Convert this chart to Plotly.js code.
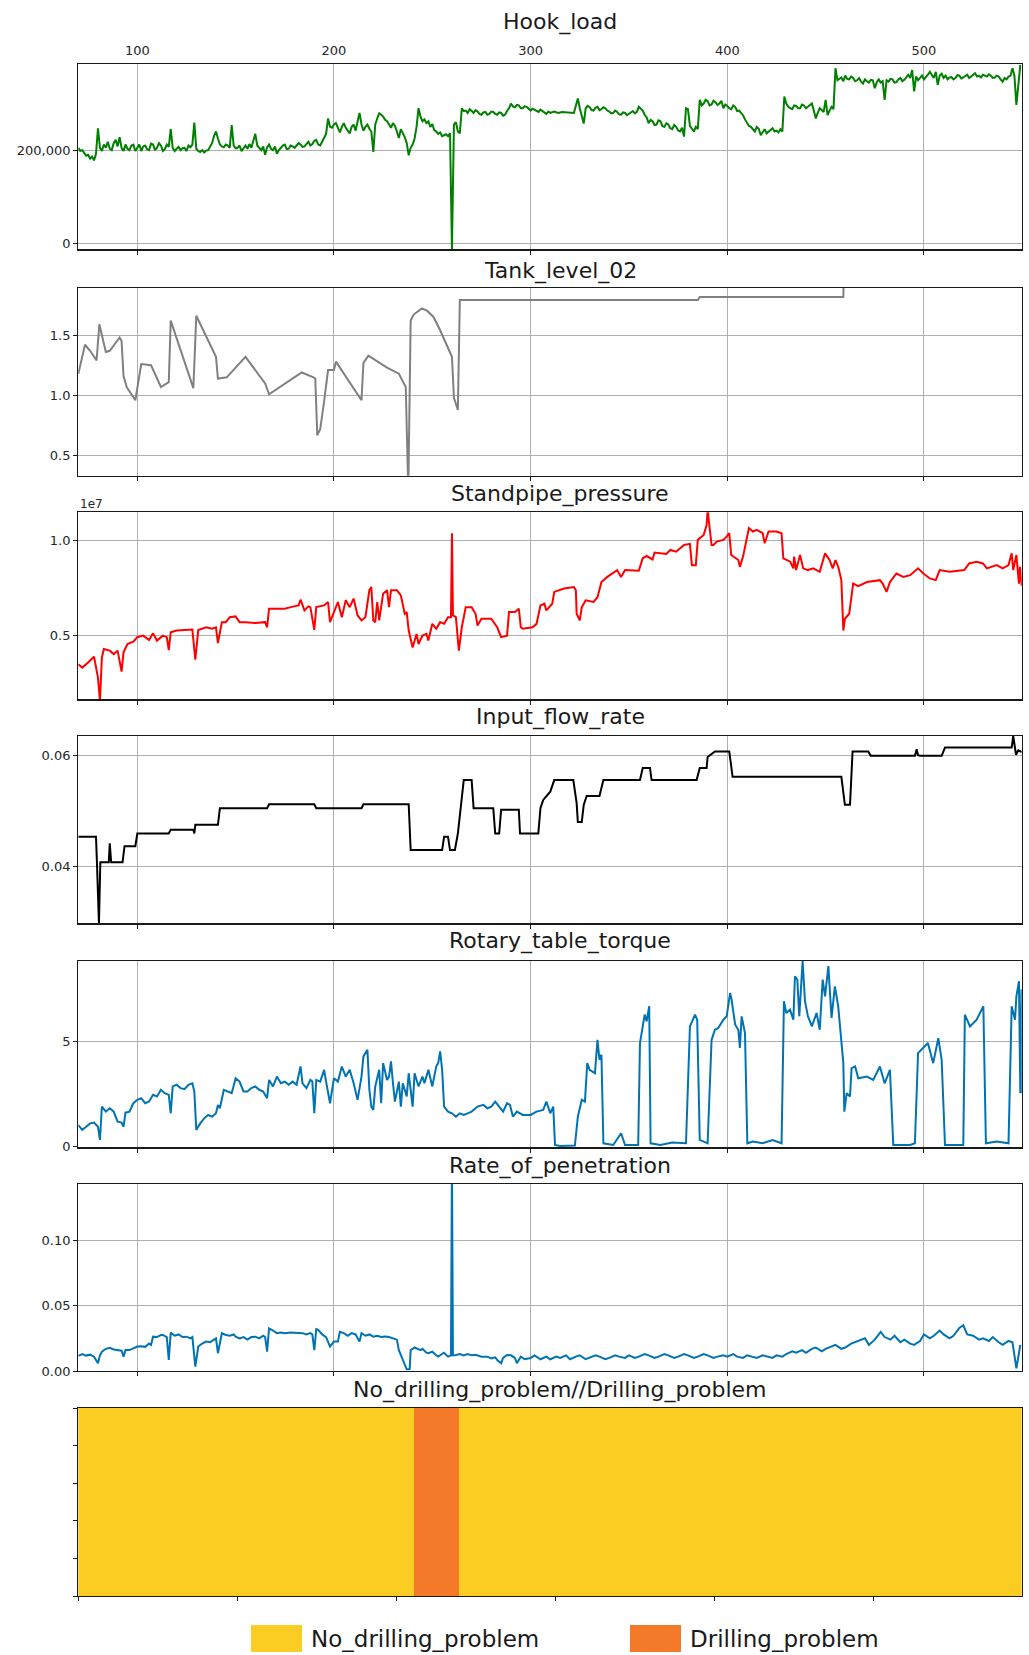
<!DOCTYPE html>
<html><head><meta charset="utf-8">
<script src="https://cdn.plot.ly/plotly-3.0.1.min.js"></script>
<style>html,body{margin:0;padding:0;background:#fff}#chart{width:1029px;height:1655px}</style>
</head><body><div id="chart"></div>
<script>
// ---------------- DATA ----------------
const xTickVals = [100, 200, 300, 400, 500];
const panelTitles = ['Hook_load', 'Tank_level_02', 'Standpipe_pressure', 'Input_flow_rate',
  'Rotary_table_torque', 'Rate_of_penetration', 'No_drilling_problem//Drilling_problem'];

// [x, value]
const hookLoad = [[70,205e3],[71,198e3],[72,200e3],[73,195e3],[74,188e3],[75,190e3],[76,182e3],[77,186e3],[78,178e3],[79,192e3],[80,247e3],[81,205e3],[82,198e3],[83,212e3],[84,205e3],[85,218e3],[86,203e3],[87,200e3],[88,215e3],[89,222e3],[90,208e3],[91,228e3],[92,205e3],[93,198e3],[94,212e3],[95,203e3],[96,200e3],[97,210e3],[98,212e3],[99,198e3],[100,205e3],[101,212e3],[102,198e3],[103,208e3],[104,210e3],[105,202e3],[106,200e3],[107,214e3],[108,212e3],[109,200e3],[110,205e3],[111,215e3],[112,210e3],[113,198e3],[114,202e3],[115,212e3],[116,207e3],[117,245e3],[118,205e3],[119,198e3],[120,203e3],[121,207e3],[122,200e3],[123,204e3],[124,205e3],[125,198e3],[126,210e3],[127,206e3],[128,212e3],[129,259e3],[130,203e3],[131,198e3],[132,196e3],[133,200e3],[134,195e3],[135,199e3],[136,200e3],[137,207e3],[138,215e3],[139,230e3],[140,240e3],[141,225e3],[142,212e3],[143,208e3],[144,206e3],[145,212e3],[146,210e3],[147,205e3],[148,254e3],[149,210e3],[150,204e3],[151,205e3],[152,210e3],[153,198e3],[154,205e3],[155,210e3],[156,203e3],[157,213e3],[158,205e3],[159,218e3],[160,235e3],[161,210e3],[162,204e3],[163,200e3],[164,208e3],[165,190e3],[166,206e3],[167,212e3],[168,203e3],[169,200e3],[170,208e3],[171,192e3],[172,200e3],[173,205e3],[174,210e3],[175,212e3],[176,202e3],[177,203e3],[178,210e3],[179,208e3],[180,205e3],[181,210e3],[182,215e3],[183,212e3],[184,207e3],[185,208e3],[186,214e3],[187,218e3],[188,210e3],[189,213e3],[190,220e3],[191,222e3],[192,212e3],[193,210e3],[194,218e3],[195,228e3],[196,235e3],[197,268e3],[198,250e3],[199,248e3],[200,255e3],[201,258e3],[202,246e3],[203,238e3],[204,250e3],[205,258e3],[206,248e3],[207,243e3],[208,236e3],[209,250e3],[210,255e3],[211,242e3],[212,262e3],[213,280e3],[214,255e3],[215,242e3],[216,250e3],[217,255e3],[218,246e3],[219,240e3],[220,196e3],[221,255e3],[222,268e3],[223,279e3],[224,276e3],[225,272e3],[226,265e3],[227,262e3],[228,255e3],[229,248e3],[230,258e3],[231,252e3],[232,240e3],[233,226e3],[234,245e3],[235,236e3],[236,228e3],[237,215e3],[238,189e3],[239,205e3],[240,212e3],[241,225e3],[242,250e3],[243,290e3],[244,272e3],[245,262e3],[246,266e3],[247,258e3],[248,262e3],[249,250e3],[250,256e3],[251,243e3],[252,240e3],[253,235e3],[254,238e3],[255,230e3],[256,233e3],[257,234e3],[258,230e3],[259,236e3],[260,-13e3],[261,255e3],[262,260e3],[263,240e3],[264,236e3],[265,290e3],[266,284e3],[267,285e3],[268,280e3],[269,288e3],[270,284e3],[271,280e3],[272,286e3],[273,283e3],[274,278e3],[275,276e3],[276,281e3],[277,282e3],[278,276e3],[279,278e3],[280,283e3],[281,282e3],[282,278e3],[283,276e3],[284,281e3],[285,280e3],[286,274e3],[287,276e3],[288,284e3],[289,290e3],[290,300e3],[291,294e3],[292,292e3],[293,297e3],[294,296e3],[295,290e3],[296,290e3],[297,294e3],[298,293e3],[299,288e3],[300,285e3],[301,289e3],[302,287e3],[303,284e3],[304,282e3],[305,287e3],[306,284e3],[307,280e3],[308,278e3],[309,283e3],[310,280e3],[312,283e3],[314,280e3],[316,282e3],[318,281e3],[320,281e3],[322,280e3],[324,311e3],[325,290e3],[327,257e3],[328,290e3],[329,295e3],[330,292e3],[331,286e3],[332,285e3],[333,291e3],[334,293e3],[335,286e3],[336,288e3],[337,292e3],[338,290e3],[339,285e3],[340,283e3],[341,279e3],[342,280e3],[343,285e3],[344,282e3],[345,277e3],[346,276e3],[347,281e3],[348,280e3],[349,275e3],[350,278e3],[351,281e3],[352,284e3],[353,279e3],[354,282e3],[355,293e3],[356,288e3],[357,285e3],[358,276e3],[359,270e3],[360,258e3],[361,265e3],[362,262e3],[363,254e3],[364,255e3],[365,264e3],[366,262e3],[367,252e3],[368,250e3],[369,258e3],[370,255e3],[371,247e3],[372,245e3],[373,254e3],[374,250e3],[375,242e3],[376,240e3],[377,248e3],[378,229e3],[379,290e3],[380,288e3],[381,252e3],[382,246e3],[383,240e3],[384,250e3],[385,245e3],[386,308e3],[387,296e3],[388,300e3],[389,308e3],[390,305e3],[391,296e3],[392,298e3],[393,306e3],[394,303e3],[395,297e3],[396,300e3],[397,306e3],[398,290e3],[399,298e3],[400,295e3],[401,290e3],[402,288e3],[403,296e3],[404,293e3],[405,284e3],[406,285e3],[407,280e3],[408,275e3],[409,266e3],[410,258e3],[411,252e3],[412,250e3],[413,244e3],[414,240e3],[415,250e3],[416,246e3],[417,232e3],[418,240e3],[419,245e3],[420,236e3],[421,240e3],[422,244e3],[423,247e3],[424,240e3],[425,242e3],[426,238e3],[427,245e3],[428,240e3],[429,315e3],[430,300e3],[431,293e3],[432,290e3],[433,288e3],[434,296e3],[435,295e3],[436,290e3],[437,290e3],[438,298e3],[439,296e3],[440,290e3],[441,293e3],[442,296e3],[443,300e3],[444,285e3],[445,268e3],[446,280e3],[447,290e3],[448,286e3],[449,282e3],[450,308e3],[451,275e3],[452,285e3],[453,293e3],[454,288e3],[455,376e3],[456,350e3],[457,354e3],[458,356e3],[459,348e3],[460,360e3],[461,353e3],[462,352e3],[463,358e3],[464,355e3],[465,348e3],[466,350e3],[467,355e3],[468,347e3],[469,343e3],[470,352e3],[471,348e3],[472,345e3],[473,351e3],[474,350e3],[475,333e3],[476,346e3],[477,352e3],[478,345e3],[479,348e3],[480,308e3],[481,350e3],[482,347e3],[483,353e3],[484,352e3],[485,345e3],[486,346e3],[487,352e3],[488,355e3],[489,348e3],[490,351e3],[491,356e3],[492,362e3],[493,355e3],[494,372e3],[495,326e3],[496,358e3],[497,350e3],[498,355e3],[499,360e3],[500,352e3],[501,356e3],[502,362e3],[503,368e3],[504,360e3],[505,355e3],[506,368e3],[507,340e3],[508,360e3],[509,364e3],[510,355e3],[511,360e3],[512,352e3],[513,356e3],[514,357e3],[515,352e3],[516,355e3],[517,361e3],[518,360e3],[519,354e3],[520,356e3],[521,359e3],[522,362e3],[523,355e3],[524,358e3],[525,362e3],[526,365e3],[527,358e3],[528,360e3],[529,356e3],[530,362e3],[531,360e3],[532,358e3],[533,363e3],[534,360e3],[535,355e3],[536,356e3],[537,360e3],[538,358e3],[539,352e3],[540,347e3],[541,355e3],[542,352e3],[543,358e3],[544,360e3],[545,376e3],[546,360e3],[547,297e3],[548,350e3],[549,383e3]];

const tankLevel = [[70,1.18],[73.4,1.42],[76,1.37],[79.3,1.29],[80.7,1.59],[82,1.5],[84,1.36],[86,1.37],[91,1.48],[92,1.45],[93,1.16],[94.6,1.07],[99,0.96],[102,1.26],[107,1.25],[112,1.07],[116,1.11],[117,1.62],[128.5,1.06],[130,1.66],[140,1.32],[141,1.14],[145.5,1.15],[155,1.32],[165,1.10],[167,1.01],[183.6,1.19],[189.6,1.15],[190.5,1.14],[191.5,0.67],[193,0.72],[195,0.95],[197,1.21],[200,1.21],[201,1.28],[214,0.96],[215,1.27],[217.5,1.33],[227,1.23],[233,1.18],[236,1.08],[236.5,1.07],[237.8,0.2],[239,1.62],[240.5,1.67],[244.7,1.72],[247.5,1.70],[250.6,1.65],[254,1.54],[257.5,1.41],[259,1.35],[260,1.32],[261,0.98],[263,0.88],[264,1.79],[385,1.79],[386,1.815],[459,1.815],[460,2.6]];

const standpipePressure = [[70,3.48e6],[72,3.30e6],[75,3.57e6],[78,3.87e6],[80,2.77e6],[81,1.54e6],[82,3.83e6],[83,4.28e6],[86,4.19e6],[88,4.01e6],[90,4.19e6],[92,3.09e6],[93,4.1e6],[95,4.54e6],[98,4.66e6],[100,4.9e6],[103,4.98e6],[106,4.75e6],[108,5.1e6],[110,4.72e6],[113,4.98e6],[115,4.9e6],[116,4.22e6],[117,5.16e6],[120,5.25e6],[125,5.28e6],[128,5.3e6],[129.5,3.71e6],[131,5.28e6],[135,5.42e6],[138,5.34e6],[140,5.42e6],[141,4.59e6],[143,5.69e6],[145,5.69e6],[147,5.95e6],[150,5.99e6],[152,5.69e6],[155,5.69e6],[160,5.64e6],[165,5.69e6],[166,5.42e6],[167,6.4e6],[170,6.4e6],[175,6.4e6],[178,6.48e6],[180,6.52e6],[182,6.57e6],[183,6.87e6],[185,6.31e6],[187,6.52e6],[188,6.48e6],[190,5.28e6],[191,6.48e6],[195,6.57e6],[197,6.75e6],[198,5.69e6],[200,6.22e6],[202,6.75e6],[204,5.95e6],[206,6.84e6],[208,6.48e6],[210,6.93e6],[212,6.04e6],[214,5.78e6],[216,5.95e6],[218,7.37e6],[219,7.54e6],[220,5.78e6],[221,5.69e6],[222,6.75e6],[223,5.78e6],[225,7.19e6],[227,7.37e6],[228,6.48e6],[229,7.37e6],[232,7.37e6],[234,7.1e6],[236,6.13e6],[237,6.22e6],[238,5.25e6],[240,4.36e6],[242,5.07e6],[243,4.54e6],[245,4.98e6],[247,5.07e6],[248,4.72e6],[250,5.6e6],[252,5.34e6],[254,5.69e6],[256,5.6e6],[258,5.95e6],[259.5,5.95e6],[260,10.37e6],[260.5,6.04e6],[262,5.95e6],[263.5,4.19e6],[265,5.42e6],[267,6.48e6],[270,6.48e6],[272,6.13e6],[273,5.51e6],[275,5.87e6],[280,5.87e6],[283,5.42e6],[285,4.9e6],[288,4.98e6],[289,6.22e6],[292,6.22e6],[294,6.4e6],[295,5.42e6],[296,5.34e6],[301,5.42e6],[303,5.6e6],[305,6.57e6],[307,6.66e6],[308,6.31e6],[311,6.66e6],[312,7.28e6],[317,7.46e6],[322,7.54e6],[323,7.37e6],[323.4,6.13e6],[325,5.78e6],[326,6.48e6],[328,6.84e6],[332,6.75e6],[334,7.0e6],[336,7.8e6],[339,8.07e6],[344,8.43e6],[346,8.07e6],[348,8.43e6],[355,8.39e6],[357,9.05e6],[359,9.17e6],[362,8.99e6],[363,9.35e6],[369,9.28e6],[371,9.49e6],[374,9.4e6],[378,9.75e6],[381,9.81e6],[382,8.69e6],[384,8.69e6],[385,10.02e6],[388,10.28e6],[389.5,10.81e6],[390,11.6e6],[392,9.75e6],[393,9.75e6],[394.6,9.93e6],[398,10.02e6],[399.7,10.19e6],[401,10.37e6],[402,9.22e6],[404,9.05e6],[405.6,8.96e6],[406.4,8.6e6],[408,9.14e6],[411,10.64e6],[413,10.46e6],[415,10.55e6],[418,10.37e6],[419,9.84e6],[421,10.46e6],[425,10.46e6],[427.6,10.37e6],[428.5,9.05e6],[432,8.87e6],[433.6,8.52e6],[434,9.14e6],[435,8.43e6],[437,9.22e6],[438.6,8.52e6],[441,8.43e6],[443.7,8.52e6],[447,8.34e6],[449.7,9.31e6],[452,8.96e6],[453.6,8.52e6],[455,8.96e6],[456.4,8.6e6],[458,7.9e6],[459,5.25e6],[459.8,5.87e6],[462,6.13e6],[464,7.72e6],[466.6,7.58e6],[471,7.8e6],[477.6,7.9e6],[479,7.72e6],[481,7.28e6],[482.7,7.8e6],[486,8.25e6],[489.5,8.07e6],[493,8.16e6],[497,8.52e6],[499.7,8.25e6],[503,7.99e6],[506,7.9e6],[508,8.43e6],[513,8.34e6],[520.5,8.43e6],[523,8.78e6],[526.8,8.87e6],[530,8.78e6],[532,8.52e6],[537,8.69e6],[540,8.52e6],[543,8.69e6],[544.6,9.31e6],[545.4,8.43e6],[547,9.22e6],[548.3,7.72e6],[548.8,8.6e6],[549.7,7.6e6]];

const inputFlowRate = [[70,0.0453],[79,0.0453],[79.5,0.0404],[80.5,0.0295],[81.2,0.0407],[85.5,0.0407],[86,0.0441],[86.7,0.0407],[92.5,0.0407],[93.5,0.0436],[99,0.0436],[100,0.0459],[116,0.0459],[117,0.0466],[128.5,0.0466],[129,0.0459],[129.5,0.0475],[141,0.0475],[142,0.0505],[166,0.0505],[167,0.0512],[190,0.0512],[191,0.0505],[214,0.0505],[215,0.0512],[238,0.0512],[239,0.0429],[255,0.0429],[256,0.0453],[258,0.0453],[259,0.0429],[261.5,0.0429],[263,0.0459],[264.5,0.0505],[266,0.0556],[270,0.0556],[271,0.0505],[281,0.0505],[282,0.0459],[284,0.0459],[285,0.0502],[294,0.0502],[294.6,0.0459],[303.9,0.0459],[305,0.0505],[306.4,0.052],[308,0.0526],[310,0.0535],[312,0.0556],[321.7,0.0556],[323.4,0.0514],[324,0.048],[326,0.048],[327,0.0511],[328.5,0.0527],[335,0.0527],[337,0.0556],[355.6,0.0556],[357,0.0578],[360.7,0.0578],[361.5,0.0556],[384.4,0.0556],[386,0.0578],[389.5,0.0578],[390,0.0598],[393.7,0.0608],[401,0.0608],[402.7,0.0562],[458,0.0562],[459.8,0.0511],[462.4,0.0511],[463.7,0.0608],[471.7,0.0608],[472.9,0.06],[495.4,0.06],[496.3,0.0612],[497,0.0601],[498,0.06],[509,0.06],[510.7,0.0615],[544.6,0.0615],[545.4,0.0636],[546.8,0.0602],[548,0.061],[549.7,0.0607]];

const rotaryTorque = [[70,1.03],[72,0.8],[74,0.95],[76,1.11],[78,1.15],[79,1.03],[80,0.95],[81,0.32],[82,1.91],[84,1.67],[86,1.83],[88,1.67],[90,1.19],[92,1.15],[93,0.95],[94,1.62],[96,1.67],[98,2.07],[100,2.23],[102,2.31],[104,2.07],[106,2.15],[108,2.47],[110,2.39],[112,2.71],[114,2.55],[116,2.47],[117,1.59],[118,2.87],[120,2.95],[122,2.79],[124,2.74],[126,2.95],[128,3.02],[129,2.63],[130,0.8],[132,1.11],[134,1.35],[136,1.51],[138,1.43],[140,1.59],[141,1.99],[142,1.83],[144,2.71],[146,2.63],[148,2.55],[150,3.26],[152,3.1],[154,2.63],[156,2.63],[158,2.79],[160,2.87],[162,2.71],[164,2.63],[166,2.31],[167,3.18],[169,2.87],[171,3.34],[173,3.02],[175,3.1],[177,2.95],[179,3.1],[181,2.95],[183,3.82],[184,3.02],[186,2.79],[188,3.18],[189,3.1],[190,1.59],[191,3.18],[193,3.1],[195,3.66],[196,3.1],[198,2.07],[200,3.26],[202,3.1],[204,3.82],[206,3.34],[208,3.66],[210,3.02],[212,2.23],[213,2.79],[214,3.34],[215,4.3],[217,4.62],[218,2.71],[219,1.91],[220,1.75],[221,2.87],[223,3.66],[224,2.07],[225,3.98],[227,3.18],[228,3.34],[229,4.06],[230,3.02],[231,2.15],[233,3.1],[234,1.91],[235,3.02],[237,2.39],[238,3.5],[240,1.91],[241,3.5],[243,2.87],[245,3.34],[246,3.02],[248,3.66],[250,2.87],[252,3.82],[253,3.98],[254,4.54],[255,3.66],[256,1.91],[258,1.67],[260,1.59],[262,1.43],[264,1.59],[266,1.51],[268,1.59],[270,1.67],[273,1.91],[276,1.99],[278,1.83],[280,1.91],[282,2.15],[284,1.91],[286,1.67],[288,2.07],[289.5,1.99],[291,1.43],[293,1.67],[296,1.51],[300,1.51],[303,1.67],[306.4,1.75],[308,2.15],[310,1.59],[311.5,1.91],[312.4,0.08],[315,0.03],[322.5,0.05],[324,1.43],[326,2.23],[327.6,2.15],[328.8,3.98],[330,3.66],[332.7,3.5],[334,5.09],[335,4.14],[336,4.38],[337,0.16],[342,0.08],[346,0.64],[348,0.08],[354.7,0.08],[355.6,4.94],[357.3,5.89],[358,6.29],[359,5.97],[360.3,6.69],[361,0.16],[366,0.08],[372,0.2],[379,0.16],[381,5.73],[383.6,6.29],[384.7,6.05],[386,0.32],[390,0.16],[392,5.09],[393.7,5.57],[395.4,5.65],[398,6.05],[399.7,6.21],[401.4,7.32],[402.2,7.0],[404,5.81],[405.6,5.57],[406.4,4.7],[407.3,6.21],[409,5.41],[410.2,0.16],[413,0.24],[418,0.16],[423,0.32],[427.6,0.16],[428.8,6.93],[430,6.37],[431.9,6.53],[433.6,6.05],[434.4,8.12],[435.6,7.96],[436.6,6.21],[438.3,8.84],[439.5,6.93],[441,6.21],[443,5.73],[445.4,6.37],[447,5.57],[448.5,7.96],[449.7,7.16],[451.4,8.6],[453,6.13],[454.7,7.64],[456.4,6.69],[457.8,5.09],[459,3.98],[459.5,1.67],[460.7,2.55],[462.4,2.39],[463.2,3.74],[465,3.82],[466.6,3.26],[471,3.34],[474.2,3.18],[477.6,3.82],[480,3.02],[482.7,3.66],[484.4,0.08],[493,0.08],[495.4,0.16],[497,4.46],[499.7,4.7],[502,4.94],[504.7,3.98],[507.3,5.17],[509,4.14],[510.7,0.08],[520,0.08],[520.8,6.29],[523.4,5.73],[526.8,6.05],[530.2,6.69],[531.5,0.16],[537,0.24],[543,0.16],[544.6,6.69],[546.3,6.05],[547,7.16],[548.3,7.88],[549,2.55],[549.6,7.5],[549.7,2.55]];

const rateOfPenetration = [[70,0.0115],[72,0.013],[74,0.0118],[76,0.0125],[78,0.011],[80,0.0059],[81,0.012],[82,0.0148],[84,0.017],[86,0.0178],[88,0.0165],[90,0.016],[92,0.0155],[93,0.011],[94,0.016],[96,0.016],[98,0.0175],[100,0.0187],[102,0.019],[104,0.0185],[106,0.021],[107,0.02],[108,0.0263],[110,0.026],[112,0.0275],[113,0.0276],[115,0.026],[116,0.0084],[117,0.0294],[119,0.027],[121,0.028],[123,0.026],[125,0.0263],[127,0.025],[128,0.026],[129.5,0.0033],[131,0.0187],[133,0.021],[135,0.0225],[137,0.022],[139,0.024],[140,0.025],[141,0.0136],[143,0.0289],[145,0.0276],[147,0.027],[149,0.028],[150,0.0263],[152,0.025],[154,0.026],[156,0.024],[158,0.026],[160,0.0263],[162,0.025],[164,0.027],[165,0.026],[166,0.0148],[167,0.0327],[169,0.031],[171,0.029],[173,0.0294],[175,0.029],[178,0.0294],[181,0.029],[184,0.029],[186,0.028],[188,0.029],[189,0.028],[190,0.016],[191,0.032],[192,0.0315],[194,0.028],[196,0.026],[198,0.0187],[200,0.0225],[202,0.0225],[203,0.03],[205,0.029],[207,0.027],[209,0.029],[211,0.028],[213,0.0225],[214,0.029],[216,0.027],[218,0.028],[220,0.0263],[222,0.027],[224,0.026],[226,0.0265],[228,0.026],[230,0.025],[232,0.024],[233,0.016],[235,0.0084],[237,0.0013],[238.5,0.0015],[239,0.016],[241,0.018],[242,0.0174],[244,0.016],[245,0.017],[247,0.014],[248,0.0136],[250,0.0148],[252,0.012],[253,0.011],[255,0.013],[256,0.014],[258,0.011],[259.5,0.012],[260,0.16],[260.5,0.012],[262,0.0123],[264,0.013],[266,0.012],[268,0.013],[270,0.012],[272,0.0125],[275,0.011],[278,0.011],[280,0.0097],[282,0.0105],[283,0.0084],[285,0.0059],[286,0.01],[288,0.0123],[290,0.012],[292,0.01],[293,0.006],[295,0.011],[297,0.009],[300,0.010],[302,0.012],[305,0.009],[308,0.011],[310,0.009],[313,0.011],[315,0.010],[318,0.012],[320,0.009],[323,0.011],[325,0.012],[328,0.009],[330,0.010],[333,0.012],[335,0.011],[338,0.009],[340,0.010],[343,0.012],[345,0.011],[348,0.010],[350,0.012],[353,0.010],[355,0.011],[358,0.013],[360,0.012],[363,0.010],[365,0.011],[368,0.013],[370,0.012],[373,0.010],[375,0.011],[378,0.013],[380,0.012],[383,0.010],[385,0.011],[388,0.013],[390,0.012],[393,0.010],[395,0.011],[398,0.012],[400,0.011],[403,0.013],[405,0.011],[408,0.010],[410,0.012],[413,0.011],[415,0.010],[418,0.012],[420,0.011],[423,0.010],[425,0.012],[428,0.011],[430,0.013],[433,0.015],[435,0.014],[438,0.016],[440,0.014],[443,0.017],[445,0.018],[448,0.015],[450,0.017],[453,0.019],[455,0.02],[458,0.017],[460,0.018],[463,0.021],[465,0.022],[468,0.024],[470,0.025],[472,0.02],[475,0.024],[478,0.03],[480,0.026],[483,0.024],[485,0.027],[488,0.022],[490,0.024],[493,0.021],[495,0.02],[498,0.023],[500,0.028],[503,0.025],[505,0.027],[508,0.031],[510,0.028],[513,0.025],[515,0.027],[518,0.033],[520,0.035],[522,0.028],[525,0.027],[528,0.024],[530,0.025],[533,0.023],[535,0.026],[538,0.022],[540,0.02],[543,0.023],[545,0.022],[547,0.002],[549,0.02]];

// classification strip
const classNames = ['No_drilling_problem', 'Drilling_problem'];
const classColors = ['#FBCD23', '#F47A2A'];
const segStart = [0, 211, 239];
const segEnd = [211, 239, 593];
const segClass = [0, 1, 0];

// ---------------- LAYOUT ----------------
const W = 1029, H = 1655;
const L = 78.3, R = 1021.7;
const tops = [64, 288, 512.3, 736, 960.7, 1184, 1408];
const bots = [249.3, 475.7, 699.3, 923.3, 1147.3, 1371, 1596];
const yRanges = [[-13000, 385000], [0.335, 1.89], [1.63e6, 1.147e7], [0.0296, 0.0636], [-0.03, 8.86], [0, 0.1432], [0, 1]];
const yTicks = [
  {v: [0, 200000], t: ['0', '200,000']},
  {v: [0.5, 1.0, 1.5], t: ['0.5', '1.0', '1.5']},
  {v: [5e6, 1e7], t: ['0.5', '1.0']},
  {v: [0.04, 0.06], t: ['0.04', '0.06']},
  {v: [0, 5], t: ['0', '5']},
  {v: [0, 0.05, 0.10], t: ['0.00', '0.05', '0.10']},
  {v: [0, 0.2, 0.4, 0.6, 0.8, 1.0], t: ['', '', '', '', '', '']}
];
const series = [hookLoad, tankLevel, standpipePressure, inputFlowRate, rotaryTorque, rateOfPenetration];
const colors = ['#008000', '#808080', '#FF0000', '#000000', '#0173B2', '#0173B2'];
const titleBase = [29.3, 277.5, 500.7, 724, 948.3, 1173, 1397];

const dom = [L / W, R / W];
const tickFont = {family: 'DejaVu Sans', size: 13, color: '#262626'};
const traces = [];
const layout = {
  width: W, height: H, margin: {l: 0, r: 0, t: 0, b: 0},
  paper_bgcolor: '#fff', plot_bgcolor: '#fff', showlegend: false,
  font: {family: 'DejaVu Sans', color: '#222'},
  bargap: 0, barmode: 'overlay',
  annotations: [], shapes: []
};

const axCommon = {
  showline: true, mirror: true, linecolor: '#1a1a1a', linewidth: 1.2,
  ticks: 'outside', ticklen: 4, tickwidth: 1, tickcolor: '#1a1a1a',
  zeroline: false, tickfont: tickFont, fixedrange: true
};

for (let i = 0; i < 7; i++) {
  const n = i + 1;
  const xk = n === 1 ? 'xaxis' : 'xaxis' + n;
  const yk = n === 1 ? 'yaxis' : 'yaxis' + n;
  const yDom = [1 - bots[i] / H, 1 - tops[i] / H];
  if (i < 6) {
    layout[xk] = Object.assign({}, axCommon, {
      domain: dom, anchor: n === 1 ? 'y' : 'y' + n, range: [70, 549.7],
      tickvals: xTickVals, showticklabels: false,
      showgrid: true, gridcolor: '#b0b0b0', gridwidth: 1
    });
    layout[yk] = Object.assign({}, axCommon, {
      domain: yDom, anchor: n === 1 ? 'x' : 'x' + n, range: yRanges[i],
      tickvals: yTicks[i].v, ticktext: yTicks[i].t,
      showgrid: true, gridcolor: '#b0b0b0', gridwidth: 1
    });
    const d = series[i];
    traces.push({
      type: 'scatter', mode: 'lines',
      x: d.map(p => p[0]), y: d.map(p => p[1]),
      xaxis: n === 1 ? 'x' : 'x' + n, yaxis: n === 1 ? 'y' : 'y' + n,
      line: {color: colors[i], width: 2}, hoverinfo: 'skip', cliponaxis: true
    });
  } else {
    layout[xk] = Object.assign({}, axCommon, {
      domain: dom, anchor: 'y' + n, range: [0, 593],
      tickvals: [0, 100, 200, 300, 400, 500], showticklabels: false, showgrid: false
    });
    layout[yk] = Object.assign({}, axCommon, {
      domain: yDom, anchor: 'x' + n, range: yRanges[i],
      tickvals: yTicks[i].v, ticktext: yTicks[i].t, showticklabels: false, showgrid: false
    });
    traces.push({
      type: 'bar', xaxis: 'x7', yaxis: 'y7',
      x: segStart.map((s, k) => (s + segEnd[k]) / 2),
      width: segStart.map((s, k) => segEnd[k] - s),
      y: segStart.map(() => 1), base: segStart.map(() => 0),
      marker: {color: segClass.map(c => classColors[c]), line: {width: 0}},
      hoverinfo: 'skip'
    });
  }
  layout.annotations.push({
    xref: 'paper', yref: 'paper', x: 560 / W, y: 1 - (titleBase[i] - 7) / H,
    xanchor: 'center', yanchor: 'middle', showarrow: false, text: panelTitles[i],
    font: {family: 'DejaVu Sans', size: 22, color: '#1a1a1a'}
  });
}

// top tick labels of the shared x axis (over first panel)
layout.xaxis8 = {
  overlaying: 'x', anchor: 'y', side: 'top', range: [70, 549.7], domain: dom,
  tickvals: xTickVals, ticks: '', showgrid: false, showline: false, zeroline: false,
  tickfont: tickFont, ticklabelstandoff: 5, fixedrange: true
};
traces.push({type: 'scatter', mode: 'lines', x: xTickVals, y: xTickVals.map(() => null),
  xaxis: 'x8', yaxis: 'y', hoverinfo: 'skip', line: {width: 0}});

// 1e7 offset label
layout.annotations.push({
  xref: 'paper', yref: 'paper', x: L / W, y: 1 - 504 / H, xanchor: 'left', yanchor: 'middle',
  showarrow: false, text: '1e7', font: {family: 'DejaVu Sans', size: 12, color: '#262626'}
});

// legend (manual swatches)
const legX = [251, 630];
classNames.forEach((name, k) => {
  layout.shapes.push({
    type: 'rect', xref: 'paper', yref: 'paper',
    x0: legX[k] / W, x1: (legX[k] + 51) / W, y0: 1 - 1652 / H, y1: 1 - 1625 / H,
    fillcolor: classColors[k], line: {width: 0}
  });
  layout.annotations.push({
    xref: 'paper', yref: 'paper', x: (legX[k] + 58) / W, y: 1 - 1639 / H,
    xanchor: 'left', yanchor: 'middle', showarrow: false, text: name,
    font: {family: 'DejaVu Sans', size: 23, color: '#1a1a1a'}
  });
});

Plotly.newPlot('chart', traces, layout, {staticPlot: true, displayModeBar: false});
</script>
</body></html>
